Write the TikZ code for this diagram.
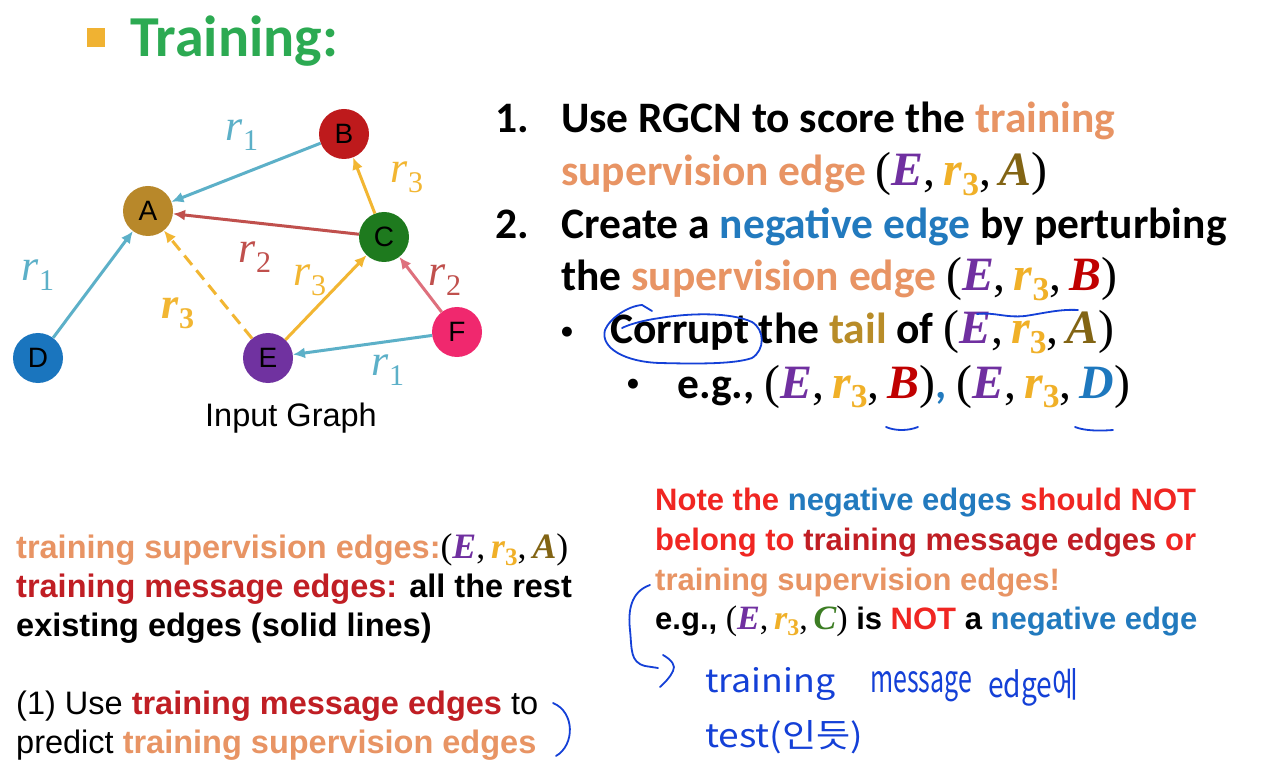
\documentclass[tikz,border=0pt]{standalone}
\usepackage{fontspec}
\usepackage{graphicx}
\usetikzlibrary{arrows.meta}
\newfontfamily\calfont{Carlito}
\newfontfamily\arfont{Liberation Sans}
\newfontfamily\serfont{Liberation Serif}
\newfontfamily\serbig{Liberation Serif}[Scale=1.1]
\newfontfamily\dvfont{DejaVu Sans}
\newfontfamily\krfont{Noto Sans CJK KR}
\definecolor{titlegreen}{RGB}{44,170,82}
\definecolor{sqorange}{RGB}{240,178,50}
\definecolor{supc}{RGB}{232,148,100}
\definecolor{msgc}{RGB}{192,30,36}
\definecolor{negc}{RGB}{34,122,190}
\definecolor{notered}{RGB}{240,38,34}
\definecolor{tailc}{RGB}{184,140,40}
\definecolor{Epur}{RGB}{112,48,160}
\definecolor{rorange}{RGB}{240,176,40}
\definecolor{Abrown}{RGB}{130,100,20}
\definecolor{Bred}{RGB}{192,0,0}
\definecolor{Dblue}{RGB}{30,120,190}
\definecolor{Cgreen}{RGB}{60,125,35}
\definecolor{ink}{RGB}{20,64,215}
\definecolor{cyanE}{RGB}{92,176,200}
\definecolor{redE}{RGB}{192,80,77}
\definecolor{pinkE}{RGB}{222,112,125}
\definecolor{orE}{RGB}{242,182,50}
\definecolor{nA}{RGB}{184,136,42}
\definecolor{nB}{RGB}{190,26,28}
\definecolor{nC}{RGB}{30,122,30}
\definecolor{nD}{RGB}{26,117,190}
\definecolor{nE}{RGB}{112,50,160}
\definecolor{nF}{RGB}{240,40,110}
\newcommand\rsym[1]{{\serfont\itshape r\raisebox{-0.22em}{\fontsize{30}{30}\selectfont\upshape #1}}}
\newcommand\subthree{\raisebox{-0.2em}{\scalebox{0.7}{\upshape 3}}}
\newcommand\trip[2]{{\serbig\mdseries(\textcolor{Epur}{\bfseries\itshape E},\,\textcolor{rorange}{\bfseries\itshape r\subthree},\,\textcolor{#1}{\bfseries\itshape #2})}}
\begin{document}
\begin{tikzpicture}[x=1pt,y=-1pt,
  gnode/.style={circle,minimum size=50pt,inner sep=0pt,font=\arfont\fontsize{28}{28}\selectfont},
  edgebase/.style={line width=3pt,-{Latex[length=12pt,width=11pt]}},
  rlab/.style={inner sep=0pt,font=\fontsize{44}{44}\selectfont},
  txt/.style={inner sep=0pt,anchor=base west},
  rtext/.style={txt,font=\calfont\bfseries\fontsize{43.5}{43.5}\selectfont},
  bul/.style={inner sep=0pt,font=\dvfont\fontsize{13}{13}\selectfont},
  ltext/.style={txt,font=\arfont\bfseries\fontsize{32.5}{32.5}\selectfont},
  lreg/.style={txt,font=\arfont\fontsize{32.5}{32.5}\selectfont},
  ntext/.style={txt,font=\arfont\bfseries\fontsize{31}{31}\selectfont},
  hand/.style={ink,line width=1.8pt,line cap=round,line join=round},
  handtxt/.style={txt,ink,font=\krfont\fontsize{30}{30}\selectfont}]
\useasboundingbox (0,0) rectangle (1279,775);
\fill[white] (0,0) rectangle (1279,775);
% title
\fill[sqorange] (87,28) rectangle (105,47);
\node[txt,titlegreen,font=\calfont\bfseries\fontsize{58}{58}\selectfont] (title) at (130,57) {Training:};
% graph
\node[gnode,fill=nA] (A) at (148,211) {A};
\node[gnode,fill=nB] (B) at (344,134) {B};
\node[gnode,fill=nC] (C) at (384,237) {C};
\node[gnode,fill=nD] (D) at (38,358) {D};
\node[gnode,fill=nE] (E) at (268,358) {E};
\node[gnode,fill=nF] (F) at (457,332) {F};
\draw[edgebase,cyanE] (B) -- (A);
\draw[edgebase,redE] (C) -- (A);
\draw[edgebase,cyanE] (D) -- (A);
\draw[edgebase,orE,dash pattern=on 12pt off 7pt] (E) -- (A);
\draw[edgebase,orE] (E) -- (C);
\draw[edgebase,orE] (C) -- (B);
\draw[edgebase,pinkE] (F) -- (C);
\draw[edgebase,cyanE] (F) -- (E);
\node[rlab,cyanE] (l1) at (242,135) {\rsym{1}};
\node[rlab,redE] (l2) at (255,257) {\rsym{2}};
\node[rlab,cyanE] (l3) at (38,275) {\rsym{1}};
\node[rlab,orE] (l4) at (178,313) {\bfseries\rsym{3}};
\node[rlab,orE] (l5) at (310,280) {\rsym{3}};
\node[rlab,orE] (l6) at (407,177) {\rsym{3}};
\node[rlab,redE] (l7) at (445,280) {\rsym{2}};
\node[rlab,cyanE] (l8) at (388,370) {\rsym{1}};
\node[inner sep=0pt,font=\arfont\fontsize{32.5}{32.5}\selectfont] (cap) at (291,418) {Input Graph};
% right text
\node[rtext] (n1) at (495,133) {1.};
\node[rtext] (t1) at (561,133) {Use RGCN to score the \textcolor{supc}{training}};
\node[rtext] (t2) at (561,186) {\textcolor{supc}{supervision edge} \trip{Abrown}{A}};
\node[rtext] (n2) at (495,239) {2.};
\node[rtext] (t3) at (561,239) {Create a \textcolor{negc}{negative edge} by perturbing};
\node[rtext] (t4) at (561,291) {the \textcolor{supc}{supervision edge} \trip{Bred}{B}};
\node[bul] (b1) at (567,332) {●};
\node[rtext] (t5) at (610,344) {Corrupt the \textcolor{tailc}{tail} of \trip{Abrown}{A}};
\node[bul] (b2) at (633,384) {●};
\node[rtext] (t6) at (677,398) {e.g., \trip{Bred}{B}\textcolor{negc}{,} \trip{Dblue}{D}};
% bottom left
\node[ltext] (s1) at (16,558) {\textcolor{supc}{training supervision edges:}\trip{Abrown}{A}};
\node[ltext] (s2) at (16,597) {\textcolor{msgc}{training message edges:} all the rest};
\node[ltext] (s3) at (16,636) {existing edges (solid lines)};
\node[lreg] (s4) at (16,714) {(1) Use \textbf{\textcolor{msgc}{training message edges}} to};
\node[lreg] (s5) at (16,753) {predict \textbf{\textcolor{supc}{training supervision edges}}};
% bottom right
\node[ntext,notered] (m1) at (655,510) {Note the \textcolor{negc}{negative edges} should NOT};
\node[ntext,notered] (m2) at (655,550) {belong to \textcolor{msgc}{training message edges} or};
\node[ntext,supc] (m3) at (655,590) {training supervision edges!};
\node[ntext] (m4) at (655,629) {e.g., \trip{Cgreen}{C} is \textcolor{notered}{NOT} a \textcolor{negc}{negative edge}};
% handwriting
\draw[hand] (652,311) -- (642,305) .. controls (628,306) and (610,318) .. (605,330) .. controls (600,348) and (625,362) .. (660,363) .. controls (700,364) and (735,364) .. (752,358) .. controls (765,350) and (765,330) .. (752,322) .. controls (730,312) and (690,313) .. (660,318) .. controls (645,320) and (630,324) .. (622,328);
\draw[hand] (977,314) .. controls (995,312) and (1005,318) .. (1025,316) .. controls (1045,313) and (1060,309) .. (1078,310);
\draw[hand] (886,427) .. controls (895,431) and (908,431) .. (918,427);
\draw[hand] (1075,427) .. controls (1085,431) and (1100,431) .. (1113,430);
\draw[hand] (553,703) .. controls (575,712) and (575,745) .. (556,756);
\draw[hand] (650,585) .. controls (630,592) and (628,612) .. (630,630) .. controls (632,650) and (630,662) .. (645,666) -- (658,668);
\draw[hand] (663,655) .. controls (672,660) and (676,666) .. (673,671) .. controls (670,678) and (664,683) .. (660,687);
\node[handtxt] (h1) at (705,692) {\resizebox{130pt}{25pt}{training}};
\node[handtxt] (h2) at (870,692) {\resizebox{102pt}{21pt}{message}};
\node[handtxt] (h3) at (988,697) {\resizebox{90pt}{29pt}{edge에}};
\node[handtxt] (h4) at (705,747) {\resizebox{158pt}{27pt}{test(인듯)}};
\end{tikzpicture}
\end{document}
